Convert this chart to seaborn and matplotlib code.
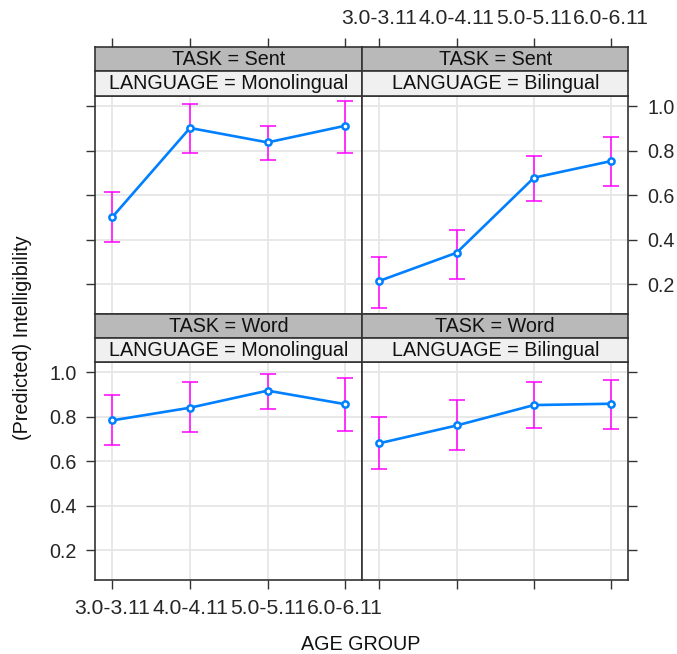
import numpy as np
import pandas as pd
import matplotlib
matplotlib.use("Agg")
import matplotlib.pyplot as plt
import seaborn as sns

# ---- data ----
age_groups = ["3.0-3.11", "4.0-4.11", "5.0-5.11", "6.0-6.11"]
tasks = ["Sent", "Sent", "Word", "Word"]
languages = ["Monolingual", "Bilingual", "Monolingual", "Bilingual"]

sent_mono_fit = [0.502, 0.903, 0.838, 0.913]
sent_mono_lo = [0.391, 0.790, 0.757, 0.790]
sent_mono_hi = [0.613, 1.013, 0.914, 1.026]

sent_bi_fit = [0.214, 0.341, 0.679, 0.754]
sent_bi_lo = [0.090, 0.222, 0.572, 0.640]
sent_bi_hi = [0.323, 0.443, 0.778, 0.863]

word_mono_fit = [0.784, 0.841, 0.918, 0.857]
word_mono_lo = [0.673, 0.731, 0.835, 0.737]
word_mono_hi = [0.898, 0.955, 0.994, 0.977]

word_bi_fit = [0.681, 0.761, 0.853, 0.859]
word_bi_lo = [0.565, 0.650, 0.750, 0.744]
word_bi_hi = [0.799, 0.875, 0.955, 0.965]

y_ticks = [0.2, 0.4, 0.6, 0.8, 1.0]
y_tick_labels = ["0.2", "0.4", "0.6", "0.8", "1.0"]

series = [
    (sent_mono_fit, sent_mono_lo, sent_mono_hi),
    (sent_bi_fit, sent_bi_lo, sent_bi_hi),
    (word_mono_fit, word_mono_lo, word_mono_hi),
    (word_bi_fit, word_bi_lo, word_bi_hi),
]

rows = []
for (task, lang, (fit, lo, hi)) in zip(tasks, languages, series):
    for a, f, l, h in zip(age_groups, fit, lo, hi):
        rows.append(dict(TASK=task, LANGUAGE=lang, AGE=a, fit=f, lower=l, upper=h))
df = pd.DataFrame(rows)

# ---- style ----
sns.set_theme(style="white")
plt.rcParams["font.family"] = ["Liberation Sans", "DejaVu Sans"]
FS = 14.2
FS_X = 15.2
LINE_C = "#0080ff"
ERR_C = "#ff00ff"
GRID_C = "#e6e6e6"
SPINE_C = "#333333"
DARK_STRIP = "#b9b9b9"
LIGHT_STRIP = "#f0f0f0"

W, H = 677, 654
fig = plt.figure(figsize=(W / 100, H / 100), dpi=100)
fig.patch.set_facecolor("white")

def fx(px):
    return px / W

def fy(py):
    return 1 - py / H

col_x = [(95.3, 362.3), (362.3, 628.3)]
row_y = [  # (strip1 top, strip1 bottom/strip2 top, strip2 bottom/panel top, panel bottom)
    (46.7, 70.7, 96.0, 314.0),
    (314.0, 338.0, 362.0, 580.0),
]
xlim = (-0.22, 3.22)
ylim = (0.065, 1.047)
tick_len = 6.5

for i, (task, lang) in enumerate(zip(tasks, languages)):
    r, c = divmod(i, 2)
    x0, x1 = col_x[c]
    s1t, s1b, s2b, pb = row_y[r]
    ax = fig.add_axes([fx(x0), fy(pb), fx(x1) - fx(x0), fy(s2b) - fy(pb)])
    sub = df[(df.TASK == task) & (df.LANGUAGE == lang)]
    xs = np.arange(len(age_groups))
    ax.errorbar(xs, sub["fit"].values,
                yerr=[sub["fit"].values - sub["lower"].values,
                      sub["upper"].values - sub["fit"].values],
                fmt="none", ecolor=ERR_C, elinewidth=1.1, capsize=6,
                capthick=1.1, zorder=2)
    sns.pointplot(data=sub, x="AGE", y="fit", order=age_groups, errorbar=None,
                  color=LINE_C, markers="o", linestyles="-", ax=ax,
                  linewidth=1.9, markersize=4.5, markerfacecolor="white",
                  markeredgewidth=1.8, markeredgecolor=LINE_C, zorder=3)
    ax.set_xlim(*xlim)
    ax.set_ylim(*ylim)
    ax.set_xlabel("")
    ax.set_ylabel("")
    for v in xs:
        ax.axvline(v, color=GRID_C, lw=1.3, zorder=0)
    for v in y_ticks:
        ax.axhline(v, color=GRID_C, lw=1.3, zorder=0)
    ax.set_facecolor("white")
    for sp in ax.spines.values():
        sp.set_color(SPINE_C)
        sp.set_linewidth(1.2)
        sp.set_visible(True)

    # y ticks
    ax.set_yticks(y_ticks)
    ax.tick_params(axis="y", which="both", length=tick_len, width=1.0,
                   color=SPINE_C, labelsize=FS, pad=7)
    if c == 0:
        ax.tick_params(axis="y", left=True, right=False,
                       labelleft=(r == 1), labelright=False)
        if r == 1:
            ax.set_yticklabels(y_tick_labels)
    else:
        ax.tick_params(axis="y", left=False, right=True,
                       labelleft=False, labelright=(r == 0))
        if r == 0:
            ax.set_yticklabels(y_tick_labels)

    # x ticks
    ax.set_xticks(xs)
    if r == 1:
        ax.tick_params(axis="x", bottom=True, top=False, length=tick_len,
                       width=1.0, color=SPINE_C, labelsize=FS_X, pad=7,
                       labelbottom=(c == 0))
        if c == 0:
            ax.set_xticklabels(age_groups)
    else:
        ax.tick_params(axis="x", bottom=False, top=False,
                       labelbottom=False, labeltop=False)

    # strips
    for (top, bot, color, text) in [(s1t, s1b, DARK_STRIP, f"TASK = {task}"),
                                    (s1b, s2b, LIGHT_STRIP, f"LANGUAGE = {lang}")]:
        sax = fig.add_axes([fx(x0), fy(bot), fx(x1) - fx(x0), fy(top) - fy(bot)])
        sax.set_facecolor(color)
        sax.set_xlim(*xlim)
        sax.set_ylim(0, 1)
        sax.set_yticks([])
        for sp in sax.spines.values():
            sp.set_color(SPINE_C)
            sp.set_linewidth(1.2)
        sax.text(0.5, 0.48, text, transform=sax.transAxes, ha="center",
                 va="center", fontsize=FS, color="#111111")
        if r == 0 and top == s1t:
            sax.set_xticks(xs)
            sax.tick_params(axis="x", bottom=False, top=True, labelbottom=False,
                            labeltop=(c == 1), length=tick_len, width=1.0,
                            color=SPINE_C, labelsize=FS_X, pad=7)
            if c == 1:
                sax.set_xticklabels(age_groups)
        else:
            sax.set_xticks([])

fig.text(fx(361), fy(645), "AGE GROUP", ha="center", va="center",
         fontsize=FS, color="#111111")
fig.text(fx(23), fy(338), "(Predicted) Intelligibility", ha="center",
         va="center", rotation=90, fontsize=FS, color="#111111")

fig.savefig("out.png", dpi=100, facecolor="white")
